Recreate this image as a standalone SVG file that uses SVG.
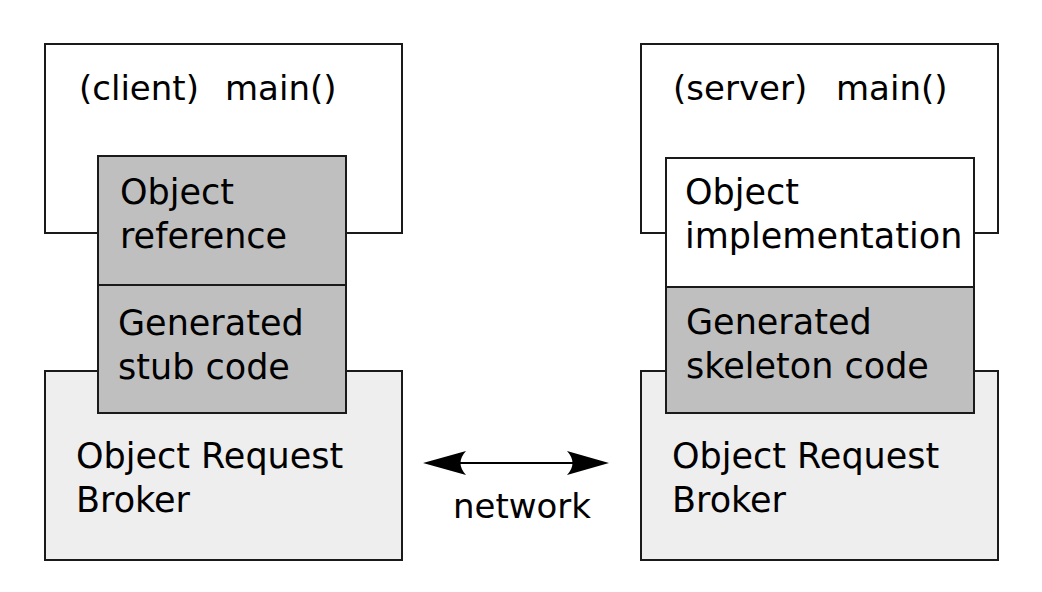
<svg xmlns="http://www.w3.org/2000/svg" width="1042" height="592" viewBox="0 0 1042 592">
<style>
  .box { stroke: #1a1a1a; stroke-width: 2; }
  .main { fill: #ffffff; }
  .orb { fill: #eeeeee; }
  .gen { fill: #bfbfbf; }
  .impl { fill: #ffffff; }
  text { font-family: "DejaVu Sans", sans-serif; font-size: 35px; fill: #000000; }
  .title, .net { font-size: 34px; }
  .arrow { stroke: #000000; stroke-width: 2; fill: none; }
  .head { fill: #000000; stroke: none; }
</style>
<rect width="1042" height="592" fill="#ffffff"/>
<g id="client-main">
  <rect class="box main" x="45" y="44" width="357" height="189"/>
  <text class="title" x="79" y="100">(client)</text>
  <text class="title" x="225" y="100">main()</text>
</g>
<g id="client-orb">
  <rect class="box orb" x="45" y="371" width="357" height="189"/>
  <text x="76" y="468">Object Request</text>
  <text x="76" y="512">Broker</text>
</g>
<g id="object-reference">
  <rect class="box gen" x="98" y="156" width="248" height="129"/>
  <text x="120" y="204">Object</text>
  <text x="120" y="248">reference</text>
</g>
<g id="stub-code">
  <rect class="box gen" x="98" y="285" width="248" height="128"/>
  <text x="118" y="335">Generated</text>
  <text x="118" y="379">stub code</text>
</g>
<g id="server-main">
  <rect class="box main" x="641" y="44" width="357" height="189"/>
  <text class="title" x="673" y="100">(server)</text>
  <text class="title" x="836" y="100">main()</text>
</g>
<g id="server-orb">
  <rect class="box orb" x="641" y="371" width="357" height="189"/>
  <text x="672" y="468">Object Request</text>
  <text x="672" y="512">Broker</text>
</g>
<g id="object-implementation">
  <rect class="box impl" x="666" y="158" width="308" height="129"/>
  <text x="685" y="204">Object</text>
  <text x="685" y="248">implementation</text>
</g>
<g id="skeleton-code">
  <rect class="box gen" x="666" y="287" width="308" height="126"/>
  <text x="686" y="334">Generated</text>
  <text x="686" y="378">skeleton code</text>
</g>
<g id="connectors">
  <line class="arrow" x1="450" y1="463" x2="582" y2="463"/>
  <path class="head" d="M423,463 L466,451 Q455,463 466,475 Z"/>
  <path class="head" d="M609,463 L567,451 Q578,463 567,475 Z"/>
  <text class="net" x="522" y="518" text-anchor="middle">network</text>
</g>
</svg>
